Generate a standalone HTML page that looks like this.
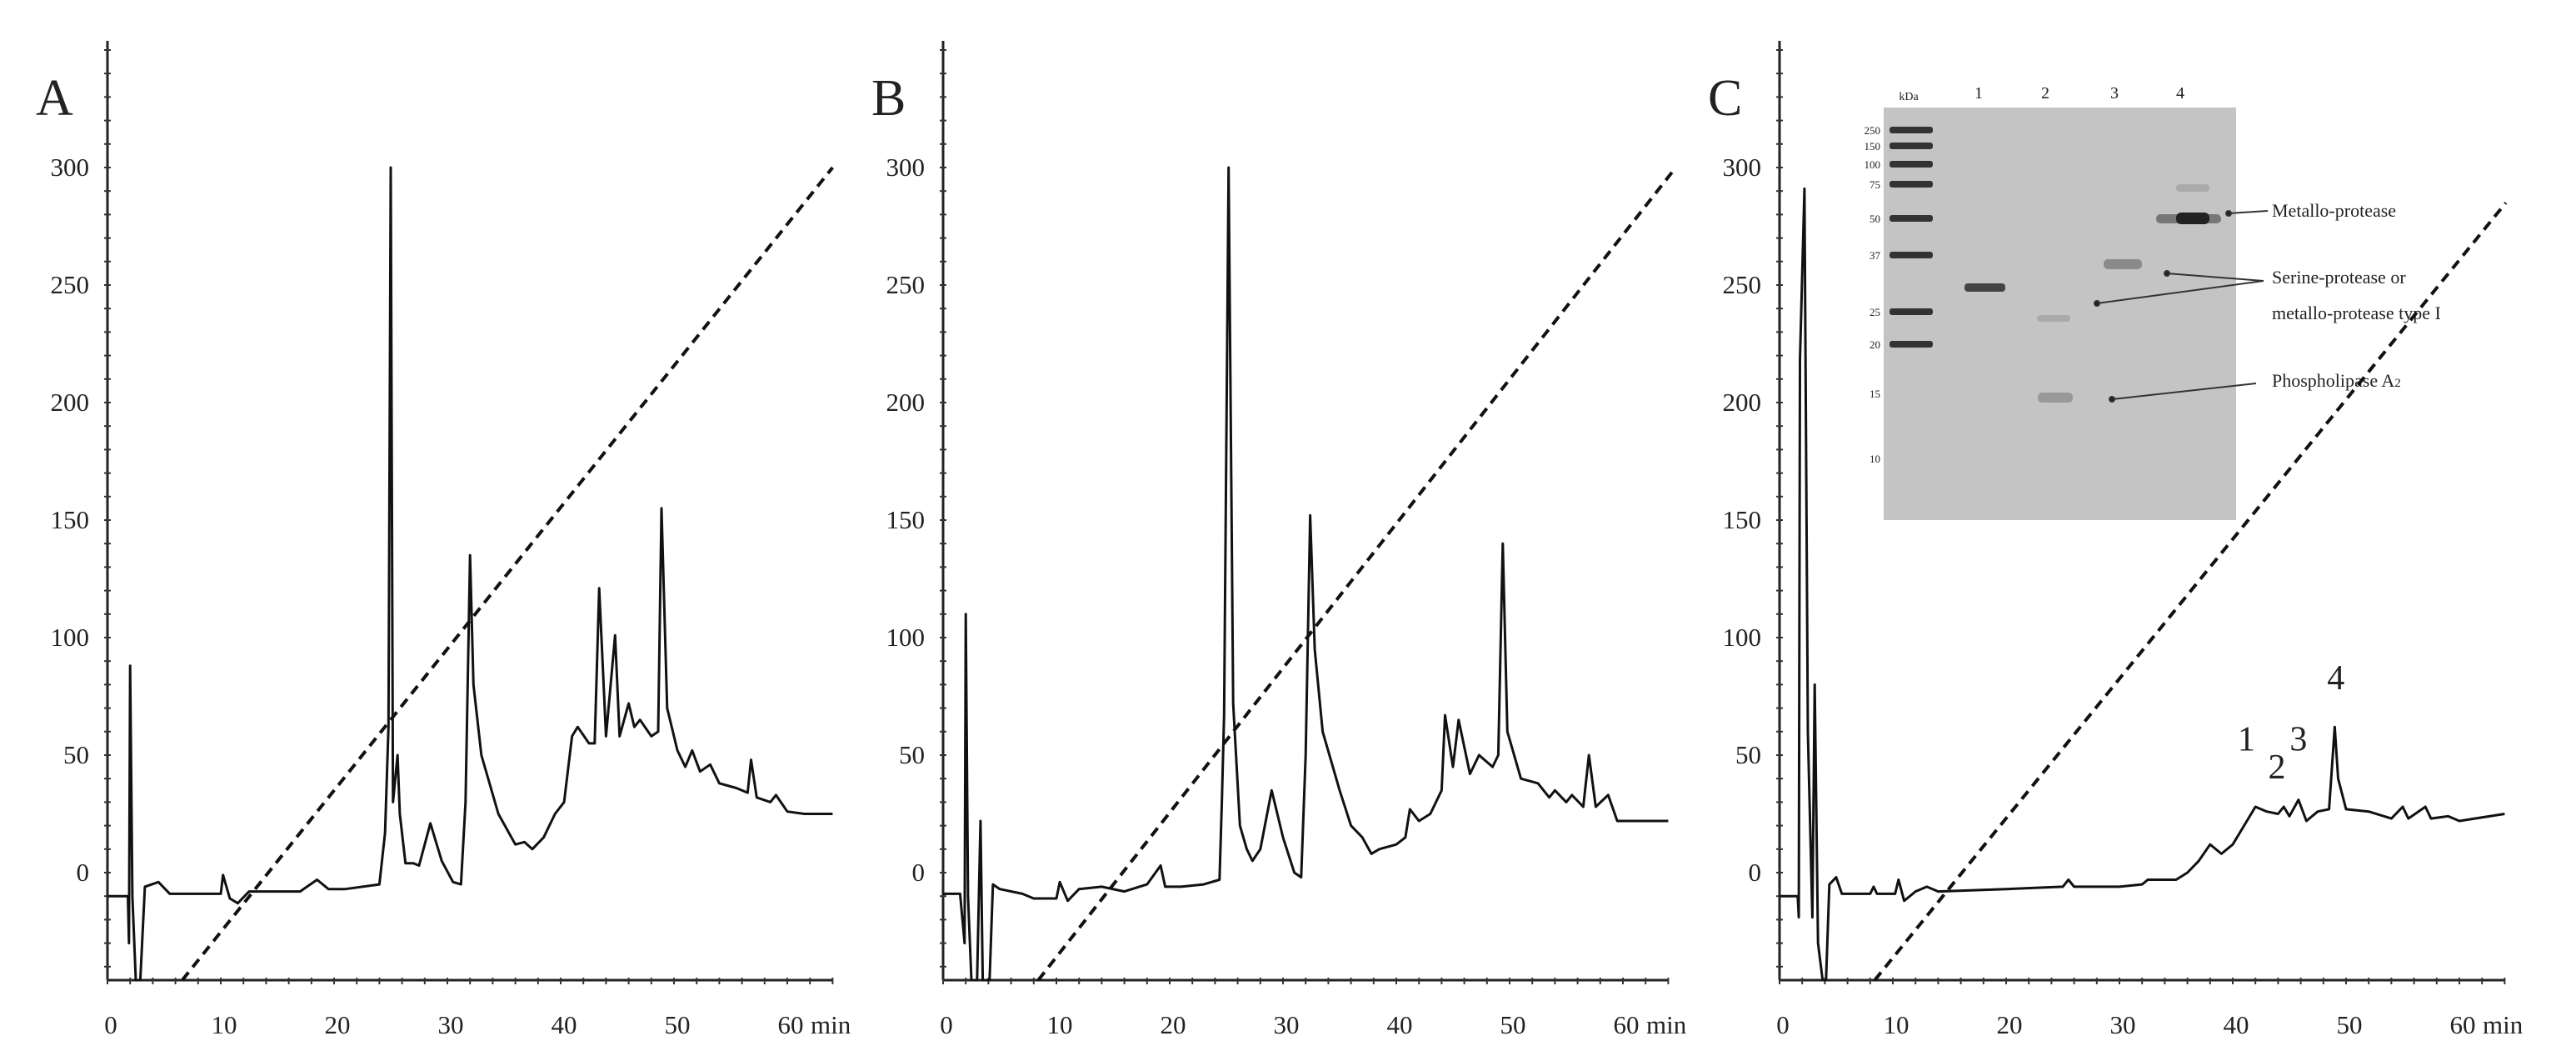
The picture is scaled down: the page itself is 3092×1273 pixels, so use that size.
<!DOCTYPE html>
<html><head><meta charset="utf-8"><style>
html,body{margin:0;padding:0;background:#fff;}
svg{display:block;}
text{font-family:"Liberation Serif",serif;fill:#222;}
</style></head><body>
<svg id="fig" width="3092" height="1273" viewBox="0 0 3092 1273" xmlns="http://www.w3.org/2000/svg">
<g id="gel">
  <rect x="2261" y="129" width="423" height="495" fill="#c4c4c4"/>
  <text x="2291" y="120" font-size="14" text-anchor="middle">kDa</text>
  <text x="2375" y="118" font-size="20" text-anchor="middle">1</text>
  <text x="2455" y="118" font-size="20" text-anchor="middle">2</text>
  <text x="2538" y="118" font-size="20" text-anchor="middle">3</text>
  <text x="2617" y="118" font-size="20" text-anchor="middle">4</text>
  <g id="ladder"></g>
  <rect x="2358" y="340" width="49" height="10" rx="4" fill="#444"/>
  <rect x="2445" y="378" width="40" height="8" rx="4" fill="#aaa"/>
  <rect x="2446" y="471" width="42" height="12" rx="5" fill="#999"/>
  <rect x="2525" y="311" width="46" height="12" rx="5" fill="#8a8a8a"/>
  <rect x="2612" y="221" width="40" height="9" rx="4" fill="#aaa"/>
  <rect x="2588" y="257" width="78" height="11" rx="5" fill="#777"/>
  <rect x="2612" y="255" width="40" height="14" rx="6" fill="#222"/>
  <g stroke="#333" stroke-width="2" fill="#222">
    <line x1="2675" y1="256" x2="2722" y2="253"/>
    <circle cx="2675" cy="256" r="3"/>
    <line x1="2601" y1="328" x2="2717" y2="337"/>
    <circle cx="2601" cy="328" r="3"/>
    <line x1="2517" y1="364" x2="2717" y2="337"/>
    <circle cx="2517" cy="364" r="3"/>
    <line x1="2535" y1="479" x2="2708" y2="460"/>
    <circle cx="2535" cy="479" r="3"/>
  </g>
  <text x="2727" y="260" font-size="22">Metallo-protease</text>
  <text x="2727" y="340" font-size="22">Serine-protease or</text>
  <text x="2727" y="383" font-size="22">metallo-protease type I</text>
  <text x="2727" y="464" font-size="22">Phospholipase A<tspan font-size="15">2</tspan></text>
</g>
<g id="panels"></g>
</svg>
<script>
// ---- data ----
const markerKDa = ["250","150","100","75","50","37","25","20","15","10"];
const markerY = [156,175,197,221,262,306,374,413,472,550];
const xTicks = [0,10,20,30,40,50,60];
const yTicks = [0,50,100,150,200,250,300];
const timeA = [0,1.8,1.9,2.0,2.2,2.5,2.9,3.3,4.5,5.5,10,10.2,10.8,11.5,12.5,15,17,18.5,19.5,21,24,24.5,24.8,25.0,25.2,25.6,25.8,26.3,27,27.5,28.5,29.5,30.5,31.2,31.6,32,32.3,33,34.5,36,36.8,37.5,38.5,39.5,40.3,41,41.5,42.5,43,43.4,44,44.8,45.2,46,46.5,47,48,48.6,48.9,49.4,50.3,51,51.6,52.3,53.2,54,55.5,56.5,56.8,57.3,58.5,59,60,61.5,64];
const valA = [-10,-10,-30,88,-10,-46,-46,-6,-4,-9,-9,-1,-11,-13,-8,-8,-8,-3,-7,-7,-5,17,62,300,30,50,25,4,4,3,21,5,-4,-5,30,135,80,50,25,12,13,10,15,25,30,58,62,55,55,121,58,101,58,72,62,65,58,60,155,70,52,45,52,43,46,38,36,34,48,32,30,33,26,25,25];
const timeB = [0,1.5,1.9,2.0,2.2,2.5,3.0,3.3,3.5,4.1,4.4,5,7,8,10,10.3,11,12,14,16,18,19.2,19.6,21,23,24.4,24.6,24.8,25.2,25.6,26.2,26.8,27.3,28,29,30,31,31.6,32,32.4,32.8,33.5,35,36,37,37.8,38.5,40,40.8,41.2,42,43,44,44.3,45,45.5,46.5,47.3,48.5,49,49.4,49.8,51,52.5,53.5,54,55,55.5,56.5,57,57.6,58.7,59.5,64];
const valB = [-9,-9,-30,110,-10,-46,-46,22,-46,-46,-5,-7,-9,-11,-11,-4,-12,-7,-6,-8,-5,3,-6,-6,-5,-3,30,67,300,72,20,10,5,10,35,15,0,-2,50,152,95,60,35,20,15,8,10,12,15,27,22,25,35,67,45,65,42,50,45,50,140,60,40,38,32,35,30,33,28,50,28,33,22,22];
const timeC = [0,1.6,1.7,1.8,2.2,2.5,2.9,3.1,3.4,3.8,4.1,4.4,5,5.5,8,8.3,8.6,10.2,10.5,11,12,13,14,20,25,25.5,26,30,32,32.5,35,36,37,38,39,40,41,42,43,44,44.5,45,45.8,46.5,47.5,48.5,49,49.3,50,52,54,55,55.5,57,57.5,59,60,64];
const valC = [-10,-10,-19,218,291,60,-19,80,-30,-46,-46,-5,-2,-9,-9,-6,-9,-9,-3,-12,-8,-6,-8,-7,-6,-3,-6,-6,-5,-3,-3,0,5,12,8,12,20,28,26,25,28,24,31,22,26,27,62,40,27,26,23,28,23,28,23,24,22,25];
const gradStart = [6.6, 8.4, 8.4];
const gradEnd = [64, 64.5, 64.1];
const gradEndVal = [300, 299, 285];
const panelNames = ["A","B","C"];
// ---- layout ----
const X0 = [129,1132,2136];
const PX_PER_MIN = 13.6;
const Y0 = 1047, PX_PER_UNIT = 2.82, YBOT = 1176, YTOP = 49;
const NS = "http://www.w3.org/2000/svg";
function mk(tag, attrs, parent){const e=document.createElementNS(NS,tag);for(const k in attrs)e.setAttribute(k,attrs[k]);parent.appendChild(e);return e;}
function sx(p,t){return X0[p]+t*PX_PER_MIN;}
function sy(v){return Math.min(YBOT, Y0 - v*PX_PER_UNIT);}

const lad = document.getElementById('ladder');
markerKDa.forEach((k,i)=>{
  const b = mk('rect',{x:2268,y:markerY[i]-4,width:52,height:8,rx:3,fill:(i<8?'#333':'none')},lad);
  
  
  const t = mk('text',{x:2257,y:markerY[i]+5,'font-size':13,'text-anchor':'end'},lad);
  t.textContent=k;
  
  
});

const root = document.getElementById('panels');
const times=[timeA,timeB,timeC], vals=[valA,valB,valC];
for(let p=0;p<3;p++){
  const g = mk('g',{},root);
  
  
  const lbl = mk('text',{x:X0[p]-86,y:138,'font-size':62},g);
  lbl.textContent = panelNames[p];
  
  
  const ya = mk('line',{x1:X0[p],y1:YTOP,x2:X0[p],y2:YBOT,stroke:'#222','stroke-width':3},g);
  
  
  const xa = mk('line',{x1:X0[p],y1:YBOT,x2:sx(p,64),y2:YBOT,stroke:'#222','stroke-width':3},g);
  
  
  for(let v=-40; v<=350; v+=10){
    const tk = mk('line',{x1:X0[p]-4,y1:sy(v),x2:X0[p]+4,y2:sy(v),stroke:'#333','stroke-width':2},g);
    
    
  }
  for(let t=0; t<=64; t+=2){
    const tk = mk('line',{x1:sx(p,t),y1:YBOT-3,x2:sx(p,t),y2:YBOT+5,stroke:'#333','stroke-width':2},g);
    
    
  }
  yTicks.forEach(v=>{
    const t = mk('text',{x:X0[p]-22,y:sy(v)+10,'font-size':31,'text-anchor':'end'},g);
    t.textContent = v;
    
    
  });
  xTicks.forEach(v=>{
    const t = mk('text',{x:sx(p,v)+4,y:1240,'font-size':31,'text-anchor':'middle'},g);
    t.textContent = v;
    
    
  });
  const mn = mk('text',{x:sx(p,60)+28,y:1240,'font-size':31},g);
  mn.textContent = 'min';
  
  
  const gl = mk('line',{x1:sx(p,gradStart[p]),y1:YBOT,x2:sx(p,gradEnd[p]),y2:sy(gradEndVal[p]),stroke:'#111','stroke-width':4,'stroke-dasharray':'12 8'},g);
  
  
  const pts = times[p].map((t,i)=>sx(p,t).toFixed(1)+','+sy(vals[p][i]).toFixed(1)).join(' ');
  const pl = mk('polyline',{points:pts,fill:'none',stroke:'#111','stroke-width':3,'stroke-linejoin':'round'},g);
  
  
}
const peakLabels = ["1","2","3","4"];
const peakTimes = [41.2,43.9,45.8,49.1];
const peakVals = [52,40,52,78];
peakLabels.forEach((s,i)=>{
  const t = mk('text',{x:sx(2,peakTimes[i]),y:sy(peakVals[i]),'font-size':42,'text-anchor':'middle'},root);
  t.textContent = s;
  
  
});
</script>
</body></html>
